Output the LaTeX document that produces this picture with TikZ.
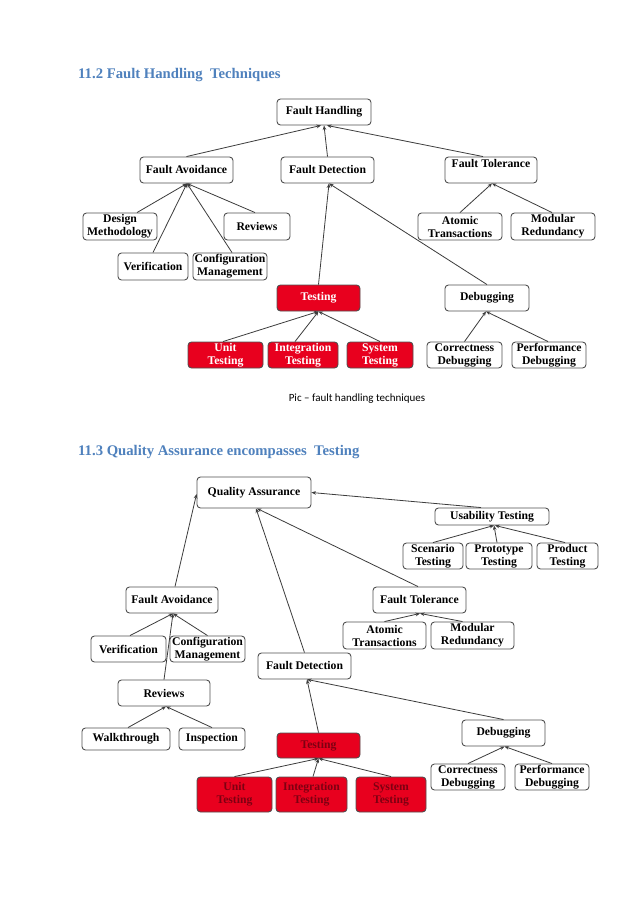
\documentclass[tikz,border=0pt]{standalone}
\usepackage{fontspec}
\setmainfont{Liberation Serif}
\newfontfamily\capfont{Carlito}
\usetikzlibrary{arrows.meta,calc}
\definecolor{hblue}{RGB}{79,129,189}
\definecolor{boxred}{RGB}{232,0,30}
\definecolor{dred}{RGB}{125,0,18}
\definecolor{edgec}{RGB}{60,60,60}
\definecolor{bord}{RGB}{80,80,80}
\begin{document}
\begin{tikzpicture}[x=1pt,y=-1pt,
 box/.style={draw=bord, line width=0.9pt, rounded corners=3.5pt, fill=white, inner sep=0pt, align=center, font=\fontsize{11.7}{13}\selectfont\bfseries},
 redbox/.style={box, fill=boxred, text=white},
 redboxb/.style={box, fill=boxred, text=dred},
 arr/.style={draw=edgec, line width=0.8pt, -{Stealth[length=4.5pt,width=3.6pt]}},
 head/.style={anchor=west, text=hblue, font=\fontsize{14.7}{16}\selectfont\bfseries, inner sep=0pt},
]
\fill[white] (0,0) rectangle (638,902);
\useasboundingbox (0,0) rectangle (638,902);

% ---------- headings ----------
\node[head] (h1) at (78,75) {11.2 Fault Handling\ \ Techniques};
\node[head] (h2) at (78,452) {11.3 Quality Assurance encompasses\ \ Testing};
\node[font=\capfont\fontsize{11}{13}\selectfont, inner sep=0pt] (cap) at (357,399) {Pic – fault handling techniques};

% ---------- diagram 1 ----------
\node[box, minimum width=94pt, minimum height=26pt] (fh) at (324,112) {Fault Handling};
\node[box, minimum width=93pt, minimum height=26pt] (fa) at (186.5,170) {Fault Avoidance};
\node[box, minimum width=93pt, minimum height=26pt] (fd) at (327.5,170) {Fault Detection};
\node[box, minimum width=92pt, minimum height=26pt] (ft) at (491,170) {Fault Tolerance\\\mbox{}};
\node[box, minimum width=74pt, minimum height=27pt] (dm) at (120,226.5) {Design\\Methodology};
\node[box, minimum width=66pt, minimum height=27pt] (rv) at (257,226.5) {Reviews};
\node[box, minimum width=70pt, minimum height=27pt] (vf) at (153,266.5) {Verification};
\node[box, minimum width=74pt, minimum height=27pt] (cm) at (230,266.5) {Configuration\\Management};
\node[box, minimum width=84pt, minimum height=27pt] (at) at (460,226.5) {Atomic\\Transactions};
\node[box, minimum width=84pt, minimum height=27pt] (mr) at (553,226.5) {Modular\\Redundancy};
\node[redbox, minimum width=83pt, minimum height=26pt] (ts) at (318.5,298) {Testing};
\node[box, minimum width=84pt, minimum height=26pt] (db) at (487,298) {Debugging};
\node[redbox, minimum width=75pt, minimum height=26pt] (ut) at (225.5,355) {Unit\\Testing};
\node[redbox, minimum width=70pt, minimum height=26pt] (it) at (303,355) {Integration\\Testing};
\node[redbox, minimum width=66pt, minimum height=26pt] (st) at (380,355) {System\\Testing};
\node[box, minimum width=75pt, minimum height=26pt] (cd) at (464.5,355) {Correctness\\Debugging};
\node[box, minimum width=74pt, minimum height=26pt] (pd) at (549,355) {Performance\\Debugging};

\draw[arr] (fa.north) -- ($(fh.south)+(-3,0)$);
\draw[arr] (fd.north) -- ($(fh.south)+(0,0)$);
\draw[arr] ($(ft.north)+(-8,0)$) -- ($(fh.south)+(3,0)$);
\draw[arr] ($(dm.north)+(17,0)$) -- ($(fa.south)+(0.5,0)$);
\draw[arr] (vf.north) -- ($(fa.south)+(0.5,0)$);
\draw[arr] ($(cm.north)+(2,0)$) -- ($(fa.south)+(0.5,0)$);
\draw[arr] ($(rv.north)+(-2,0)$) -- ($(fa.south)+(0.5,0)$);
\draw[arr] (at.north) -- ($(ft.south)+(1,0)$);
\draw[arr] ($(mr.north)+(-1,0)$) -- ($(ft.south)+(1,0)$);
\draw[arr] (ts.north) -- ($(fd.south)+(1.5,0)$);
\draw[arr] (db.north) -- ($(fd.south)+(1.5,0)$);
\draw[arr] ($(ut.north)+(-2.5,0)$) -- (ts.south);
\draw[arr] ($(it.north)+(-8,0)$) -- (ts.south);
\draw[arr] (st.north) -- (ts.south);
\draw[arr] (cd.north) -- ($(db.south)+(-1,0)$);
\draw[arr] ($(pd.north)+(-1,0)$) -- ($(db.south)+(-1,0)$);

% ---------- diagram 2 ----------
\node[box, minimum width=114pt, minimum height=31pt] (qa) at (254,492.5) {Quality Assurance};
\node[box, minimum width=114pt, minimum height=17pt] (us) at (492,516.5) {Usability Testing};
\node[box, minimum width=60pt, minimum height=26pt] (sc) at (433,556) {Scenario\\Testing};
\node[box, minimum width=66pt, minimum height=26pt] (pt) at (499,556) {Prototype\\Testing};
\node[box, minimum width=61pt, minimum height=26pt] (pr) at (567.5,556) {Product\\Testing};
\node[box, minimum width=92pt, minimum height=26pt] (fab) at (172,600) {Fault Avoidance};
\node[box, minimum width=93pt, minimum height=26pt] (ftb) at (419.5,600) {Fault Tolerance};
\node[box, minimum width=75pt, minimum height=26pt] (vfb) at (128.5,649) {Verification};
\node[box, minimum width=75pt, minimum height=26pt] (cmb) at (207.5,649) {Configuration\\Management};
\node[box, minimum width=83pt, minimum height=27pt] (atb) at (384.5,635.5) {Atomic\\Transactions};
\node[box, minimum width=83pt, minimum height=27pt] (mrb) at (472.5,635.5) {Modular\\Redundancy};
\node[box, minimum width=93pt, minimum height=26pt] (fdb) at (304.5,666) {Fault Detection};
\node[box, minimum width=92pt, minimum height=26pt] (rvb) at (164,693) {Reviews};
\node[box, minimum width=88pt, minimum height=22pt] (wt) at (126,739) {Walkthrough};
\node[box, minimum width=66pt, minimum height=22pt] (ins) at (212,739) {Inspection};
\node[box, minimum width=83pt, minimum height=26pt] (dbb) at (503.5,733) {Debugging};
\node[redboxb, minimum width=83pt, minimum height=25pt] (tsb) at (318.5,745.5) {Testing};
\node[redboxb, minimum width=75pt, minimum height=35pt] (utb) at (234.5,794.5) {Unit\\Testing};
\node[redboxb, minimum width=71pt, minimum height=35pt] (itb) at (311.5,794.5) {Integration\\Testing};
\node[redboxb, minimum width=70pt, minimum height=35pt] (stb) at (391,794.5) {System\\Testing};
\node[box, minimum width=74pt, minimum height=26pt] (cdb) at (468,777) {Correctness\\Debugging};
\node[box, minimum width=74pt, minimum height=26pt] (pdb) at (552,777) {Performance\\Debugging};

\draw[arr] ($(fab.north)+(3,0)$) -- ($(qa.west)+(0,1.5)$);
\draw[arr] (fdb.north) -- ($(qa.south)+(2,0)$);
\draw[arr] ($(ftb.north)+(-1.5,0)$) -- ($(qa.south)+(3,0)$);
\draw[arr] ($(us.north)+(-11,0)$) -- (qa.east);
\draw[arr] (sc.north) -- ($(us.south)+(2,0)$);
\draw[arr] ($(pt.north)+(-2,0)$) -- ($(us.south)+(2,0)$);
\draw[arr] ($(pr.north)+(-2.5,0)$) -- ($(us.south)+(3,0)$);
\draw[arr] ($(vfb.north)+(1.5,0)$) -- ($(fab.south)+(1,0)$);
\draw[arr] (cmb.north) -- ($(fab.south)+(1,0)$);
\draw[arr] (rvb.north) -- ($(fab.south)+(1,0)$);
\draw[arr] ($(wt.north)+(2,0)$) -- ($(rvb.south)+(2,0)$);
\draw[arr] (ins.north) -- ($(rvb.south)+(2,0)$);
\draw[arr] (atb.north) -- ($(ftb.south)+(0.5,0)$);
\draw[arr] ($(mrb.north)+(-10,0)$) -- ($(ftb.south)+(0.5,0)$);
\draw[arr] (tsb.north) -- ($(fdb.south)+(2.5,0)$);
\draw[arr] (dbb.north) -- ($(fdb.south)+(2.5,0)$);
\draw[arr] (utb.north) -- (tsb.south);
\draw[arr] ($(itb.north)+(1.5,0)$) -- (tsb.south);
\draw[arr] (stb.north) -- (tsb.south);
\draw[arr] (cdb.north) -- ($(dbb.south)+(1,0)$);
\draw[arr] (pdb.north) -- ($(dbb.south)+(1,0)$);
\end{tikzpicture}
\end{document}
